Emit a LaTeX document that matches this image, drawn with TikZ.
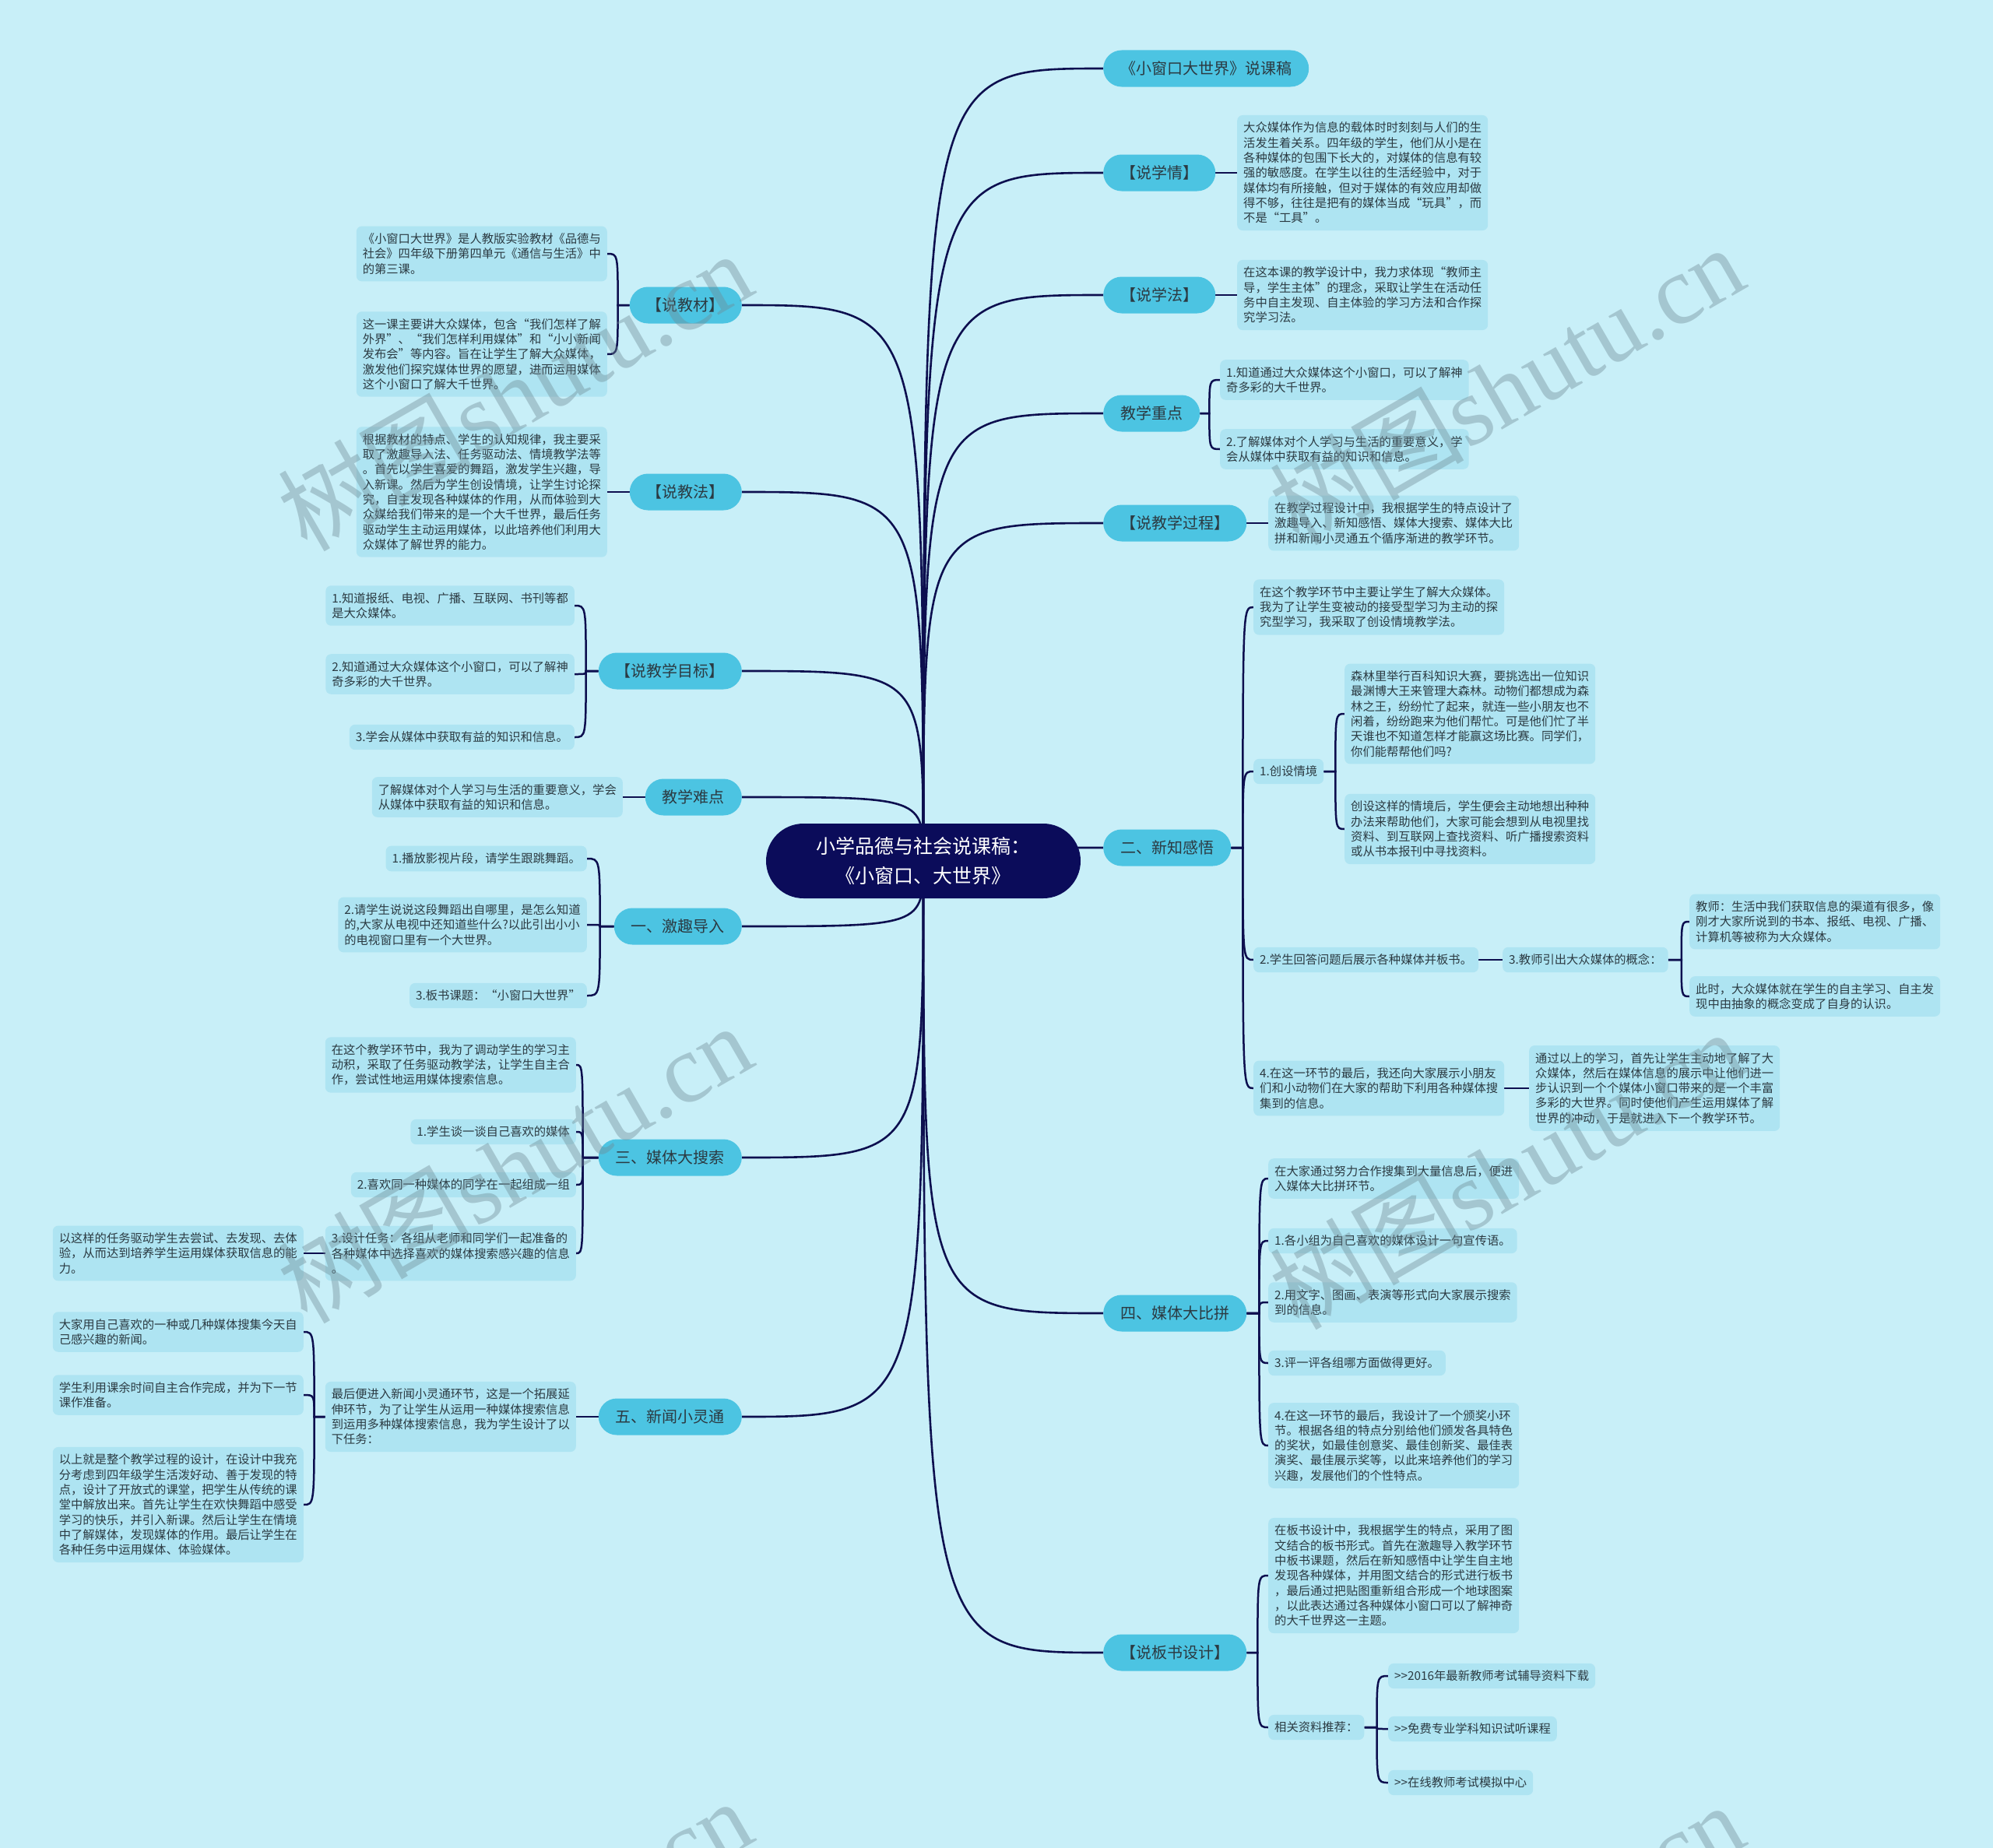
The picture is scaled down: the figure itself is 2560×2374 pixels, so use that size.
\documentclass[tikz,border=0pt]{standalone}
\usepackage{fontspec}
\newfontfamily\cjk{Noto Sans CJK SC}
\newfontfamily\wmserif{Liberation Serif}
\usetikzlibrary{calc}
\pgfdeclarelayer{bg}
\pgfsetlayers{bg,main}
\definecolor{bgc}{HTML}{C8EFF8}
\definecolor{boxc}{HTML}{AEE4F2}
\definecolor{pillc}{HTML}{4CC4E2}
\definecolor{navyc}{HTML}{0B0C5A}
\definecolor{linec}{HTML}{0D0F4F}
\definecolor{textc}{HTML}{2B3A42}
\definecolor{wmc}{HTML}{6F8A94}
\newcommand\bracketR[3]{\draw[link] let \p1=(#1.east), \p2=(#2.west) in (\p1) -- (\x1+#3pt,\y1) .. controls (\x1+#3pt,\y2) .. (\p2);}
\newcommand\bracketL[3]{\draw[link] let \p1=(#1.west), \p2=(#2.east) in (\p1) -- (\x1-#3pt,\y1) .. controls (\x1-#3pt,\y2) .. (\p2);}
\begin{document}
\begin{tikzpicture}[x=1pt,y=-1pt,
  root/.style={fill=navyc,text=white,rounded corners=48pt,minimum width=404pt,minimum height=96pt,align=center,inner sep=0pt,font=\cjk\fontsize{25}{37.5}\selectfont},
  pill/.style={fill=pillc,text=textc,rounded corners=23.5pt,minimum height=47pt,inner xsep=22pt,inner ysep=0pt,font=\cjk\fontsize{20}{24}\selectfont},
  txtbox/.style={fill=boxc,text=textc,rounded corners=7pt,align=left,inner xsep=8pt,inner ysep=9pt,font=\cjk\fontsize{15.3}{19.3}\selectfont},
  link/.style={draw=linec,line width=2.5pt},
  mainlink/.style={draw=linec,line width=2.6pt},
  wm/.style={text=wmc,opacity=0.4,font=\cjk\fontsize{125}{130}\selectfont,inner sep=0pt}]
\useasboundingbox (0,0) rectangle (2560,2374);

% ---------- root
\node[root] (root) at (1186,1106) {小学品德与社会说课稿：\\《小窗口、大世界》};

% ---------- right side
\node[pill,anchor=west] (R1) at (1417,88) {《小窗口大世界》说课稿};

\node[pill,anchor=west] (R2) at (1417,222) {【说学情】};
\node[txtbox,anchor=west] (R2a) at (1589,222) {大众媒体作为信息的载体时时刻刻与人们的生\\活发生着关系。四年级的学生，他们从小是在\\各种媒体的包围下长大的，对媒体的信息有较\\强的敏感度。在学生以往的生活经验中，对于\\媒体均有所接触，但对于媒体的有效应用却做\\得不够，往往是把有的媒体当成“玩具”，而\\不是“工具”。};

\node[pill,anchor=west] (R3) at (1417,379) {【说学法】};
\node[txtbox,anchor=west] (R3a) at (1589,379) {在这本课的教学设计中，我力求体现“教师主\\导，学生主体”的理念，采取让学生在活动任\\务中自主发现、自主体验的学习方法和合作探\\究学习法。};

\node[pill,anchor=west] (R4) at (1417,531) {教学重点};
\node[txtbox,anchor=west] (R4a) at (1567,488) {1.知道通过大众媒体这个小窗口，可以了解神\\奇多彩的大千世界。};
\node[txtbox,anchor=west] (R4b) at (1567,577) {2.了解媒体对个人学习与生活的重要意义，学\\会从媒体中获取有益的知识和信息。};

\node[pill,anchor=west] (R5) at (1417,672) {【说教学过程】};
\node[txtbox,anchor=west] (R5a) at (1629,672) {在教学过程设计中，我根据学生的特点设计了\\激趣导入、新知感悟、媒体大搜索、媒体大比\\拼和新闻小灵通五个循序渐进的教学环节。};

\node[pill,anchor=west] (R6) at (1417,1089) {二、新知感悟};
\node[txtbox,anchor=west] (R6a) at (1610,780) {在这个教学环节中主要让学生了解大众媒体。\\我为了让学生变被动的接受型学习为主动的探\\究型学习，我采取了创设情境教学法。};
\node[txtbox,anchor=west] (R6b) at (1610,991) {1.创设情境};
\node[txtbox,anchor=west] (R6b1) at (1727,917) {森林里举行百科知识大赛，要挑选出一位知识\\最渊博大王来管理大森林。动物们都想成为森\\林之王，纷纷忙了起来，就连一些小朋友也不\\闲着，纷纷跑来为他们帮忙。可是他们忙了半\\天谁也不知道怎样才能赢这场比赛。同学们，\\你们能帮帮他们吗?};
\node[txtbox,anchor=west] (R6b2) at (1727,1065) {创设这样的情境后，学生便会主动地想出种种\\办法来帮助他们，大家可能会想到从电视里找\\资料、到互联网上查找资料、听广播搜索资料\\或从书本报刊中寻找资料。};
\node[txtbox,anchor=west] (R6c) at (1610,1233) {2.学生回答问题后展示各种媒体并板书。};
\node[txtbox,anchor=west] (R6c1) at (1930,1233) {3.教师引出大众媒体的概念：};
\node[txtbox,anchor=west] (R6c1a) at (2170,1184) {教师：生活中我们获取信息的渠道有很多，像\\刚才大家所说到的书本、报纸、电视、广播、\\计算机等被称为大众媒体。};
\node[txtbox,anchor=west] (R6c1b) at (2170,1280) {此时，大众媒体就在学生的自主学习、自主发\\现中由抽象的概念变成了自身的认识。};
\node[txtbox,anchor=west] (R6d) at (1610,1398) {4.在这一环节的最后，我还向大家展示小朋友\\们和小动物们在大家的帮助下利用各种媒体搜\\集到的信息。};
\node[txtbox,anchor=west] (R6d1) at (1964,1398) {通过以上的学习，首先让学生主动地了解了大\\众媒体，然后在媒体信息的展示中让他们进一\\步认识到一个个媒体小窗口带来的是一个丰富\\多彩的大世界。同时使他们产生运用媒体了解\\世界的冲动，于是就进入下一个教学环节。};

\node[pill,anchor=west] (R7) at (1417,1687) {四、媒体大比拼};
\node[txtbox,anchor=west] (R7a) at (1629,1514) {在大家通过努力合作搜集到大量信息后，便进\\入媒体大比拼环节。};
\node[txtbox,anchor=west] (R7b) at (1629,1594) {1.各小组为自己喜欢的媒体设计一句宣传语。};
\node[txtbox,anchor=west] (R7c) at (1629,1673) {2.用文字、图画、表演等形式向大家展示搜索\\到的信息。};
\node[txtbox,anchor=west] (R7d) at (1629,1751) {3.评一评各组哪方面做得更好。};
\node[txtbox,anchor=west] (R7e) at (1629,1857) {4.在这一环节的最后，我设计了一个颁奖小环\\节。根据各组的特点分别给他们颁发各具特色\\的奖状，如最佳创意奖、最佳创新奖、最佳表\\演奖、最佳展示奖等，以此来培养他们的学习\\兴趣，发展他们的个性特点。};

\node[pill,anchor=west] (R8) at (1417,2123) {【说板书设计】};
\node[txtbox,anchor=west] (R8a) at (1629,2024) {在板书设计中，我根据学生的特点，采用了图\\文结合的板书形式。首先在激趣导入教学环节\\中板书课题，然后在新知感悟中让学生自主地\\发现各种媒体，并用图文结合的形式进行板书\\，最后通过把贴图重新组合形成一个地球图案\\，以此表达通过各种媒体小窗口可以了解神奇\\的大千世界这一主题。};
\node[txtbox,anchor=west] (R8b) at (1629,2219) {相关资料推荐：};
\node[txtbox,anchor=west] (R8b1) at (1783,2153) {>>2016年最新教师考试辅导资料下载};
\node[txtbox,anchor=west] (R8b2) at (1783,2221) {>>免费专业学科知识试听课程};
\node[txtbox,anchor=west] (R8b3) at (1783,2290) {>>在线教师考试模拟中心};

% ---------- left side
\node[pill,anchor=east] (L1) at (953,392) {【说教材】};
\node[txtbox,anchor=east] (L1a) at (780,326) {《小窗口大世界》是人教版实验教材《品德与\\社会》四年级下册第四单元《通信与生活》中\\的第三课。};
\node[txtbox,anchor=east] (L1b) at (780,455) {这一课主要讲大众媒体，包含“我们怎样了解\\外界”、“我们怎样利用媒体”和“小小新闻\\发布会”等内容。旨在让学生了解大众媒体，\\激发他们探究媒体世界的愿望，进而运用媒体\\这个小窗口了解大千世界。};

\node[pill,anchor=east] (L2) at (953,632) {【说教法】};
\node[txtbox,anchor=east] (L2a) at (780,632) {根据教材的特点、学生的认知规律，我主要采\\取了激趣导入法、任务驱动法、情境教学法等\\。首先以学生喜爱的舞蹈，激发学生兴趣，导\\入新课。然后为学生创设情境，让学生讨论探\\究，自主发现各种媒体的作用，从而体验到大\\众媒给我们带来的是一个大千世界，最后任务\\驱动学生主动运用媒体，以此培养他们利用大\\众媒体了解世界的能力。};

\node[pill,anchor=east] (L3) at (953,862) {【说教学目标】};
\node[txtbox,anchor=east] (L3a) at (738,778) {1.知道报纸、电视、广播、互联网、书刊等都\\是大众媒体。};
\node[txtbox,anchor=east] (L3b) at (738,866) {2.知道通过大众媒体这个小窗口，可以了解神\\奇多彩的大千世界。};
\node[txtbox,anchor=east] (L3c) at (738,947) {3.学会从媒体中获取有益的知识和信息。};

\node[pill,anchor=east] (L4) at (953,1024) {教学难点};
\node[txtbox,anchor=east] (L4a) at (800,1024) {了解媒体对个人学习与生活的重要意义，学会\\从媒体中获取有益的知识和信息。};

\node[pill,anchor=east] (L5) at (953,1190) {一、激趣导入};
\node[txtbox,anchor=east] (L5a) at (754,1103) {1.播放影视片段，请学生跟跳舞蹈。};
\node[txtbox,anchor=east] (L5b) at (754,1188) {2.请学生说说这段舞蹈出自哪里，是怎么知道\\的,大家从电视中还知道些什么?以此引出小小\\的电视窗口里有一个大世界。};
\node[txtbox,anchor=east] (L5c) at (754,1279) {3.板书课题：“小窗口大世界”};

\node[pill,anchor=east] (L6) at (953,1487) {三、媒体大搜索};
\node[txtbox,anchor=east] (L6a) at (740,1368) {在这个教学环节中，我为了调动学生的学习主\\动积，采取了任务驱动教学法，让学生自主合\\作，尝试性地运用媒体搜索信息。};
\node[txtbox,anchor=east] (L6b) at (740,1454) {1.学生谈一谈自己喜欢的媒体};
\node[txtbox,anchor=east] (L6c) at (740,1522) {2.喜欢同一种媒体的同学在一起组成一组};
\node[txtbox,anchor=east] (L6d) at (740,1610) {3.设计任务：各组从老师和同学们一起准备的\\各种媒体中选择喜欢的媒体搜索感兴趣的信息\\。};
\node[txtbox,anchor=east] (L6d1) at (390,1610) {以这样的任务驱动学生去尝试、去发现、去体\\验，从而达到培养学生运用媒体获取信息的能\\力。};

\node[pill,anchor=east] (L7) at (953,1820) {五、新闻小灵通};
\node[txtbox,anchor=east] (L7a) at (740,1820) {最后便进入新闻小灵通环节，这是一个拓展延\\伸环节，为了让学生从运用一种媒体搜索信息\\到运用多种媒体搜索信息，我为学生设计了以\\下任务：};
\node[txtbox,anchor=east] (L7a1) at (390,1711) {大家用自己喜欢的一种或几种媒体搜集今天自\\己感兴趣的新闻。};
\node[txtbox,anchor=east] (L7a2) at (390,1792) {学生利用课余时间自主合作完成，并为下一节\\课作准备。};
\node[txtbox,anchor=east] (L7a3) at (390,1933) {以上就是整个教学过程的设计，在设计中我充\\分考虑到四年级学生活泼好动、善于发现的特\\点，设计了开放式的课堂，把学生从传统的课\\堂中解放出来。首先让学生在欢快舞蹈中感受\\学习的快乐，并引入新课。然后让学生在情境\\中了解媒体，发现媒体的作用。最后让学生在\\各种任务中运用媒体、体验媒体。};

% ---------- connectors (background layer)
\begin{pgfonlayer}{bg}
\fill[bgc] (0,0) rectangle (2560,2374);
\foreach \n in {R1,R2,R3,R4,R5,R6,R7,R8}
  \draw[mainlink] (root.center) .. controls (root.center |- \n.west) .. (\n.west);
\foreach \n in {L1,L2,L3,L4,L5,L6,L7}
  \draw[mainlink] (root.center) .. controls (root.center |- \n.east) .. (\n.east);
% right
\draw[link] (R2.east) -- (R2a.west);
\draw[link] (R3.east) -- (R3a.west);
\draw[link] (R5.east) -- (R5a.west);
\bracketR{R4}{R4a}{12}\bracketR{R4}{R4b}{12}
\foreach \c in {R6a,R6b,R6c,R6d} {\bracketR{R6}{\c}{15}}
\bracketR{R6b}{R6b1}{15}\bracketR{R6b}{R6b2}{15}
\draw[link] (R6c.east) -- (R6c1.west);
\bracketR{R6c1}{R6c1a}{17}\bracketR{R6c1}{R6c1b}{17}
\draw[link] (R6d.east) -- (R6d1.west);
\foreach \c in {R7a,R7b,R7c,R7d,R7e} {\bracketR{R7}{\c}{16}}
\bracketR{R8}{R8a}{14}\bracketR{R8}{R8b}{14}
\foreach \c in {R8b1,R8b2,R8b3} {\bracketR{R8b}{\c}{16}}
% left
\bracketL{L1}{L1a}{15}\bracketL{L1}{L1b}{15}
\draw[link] (L2.west) -- (L2a.east);
\foreach \c in {L3a,L3b,L3c} {\bracketL{L3}{\c}{16}}
\draw[link] (L4.west) -- (L4a.east);
\foreach \c in {L5a,L5b,L5c} {\bracketL{L5}{\c}{18}}
\foreach \c in {L6a,L6b,L6c,L6d} {\bracketL{L6}{\c}{20}}
\draw[link] (L6d.west) -- (L6d1.east);
\draw[link] (L7.west) -- (L7a.east);
\foreach \c in {L7a1,L7a2,L7a3} {\bracketL{L7a}{\c}{14}}
\end{pgfonlayer}

% ---------- watermarks
\begin{scope}
\clip (0,0) rectangle (2560,2374);
\node[wm,rotate=30] (w1) at (661,502) {树图{\wmserif shutu.cn}};
\node[wm,rotate=30] (w2) at (1935,494) {树图{\wmserif shutu.cn}};
\node[wm,rotate=30] (w3) at (661,1494) {树图{\wmserif shutu.cn}};
\node[wm,rotate=30] (w4) at (1935,1502) {树图{\wmserif shutu.cn}};
\node[wm,rotate=30] (w5) at (661,2490) {树图{\wmserif shutu.cn}};
\node[wm,rotate=30] (w6) at (1935,2495) {树图{\wmserif shutu.cn}};
\end{scope}
\end{tikzpicture}
\end{document}
